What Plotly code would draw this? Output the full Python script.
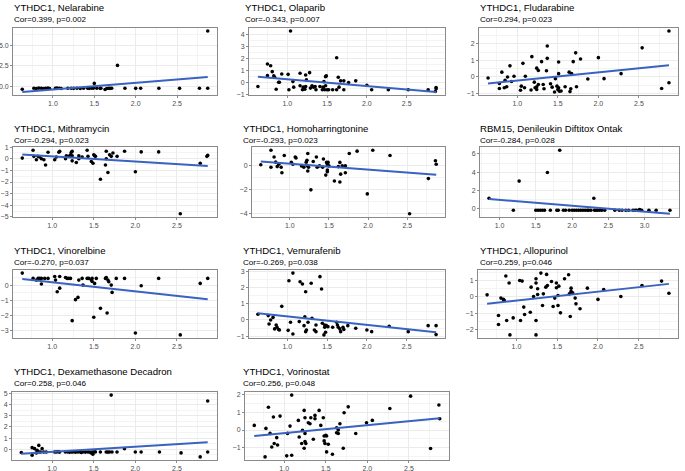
import numpy as np
import plotly.graph_objects as go

W, H = 685, 471

titles = ["YTHDC1, Nelarabine", "YTHDC1, Olaparib", "YTHDC1, Fludarabine",
          "YTHDC1, Mithramycin", "YTHDC1, Homoharringtonine", "RBM15, Denileukin Diftitox Ontak",
          "YTHDC1, Vinorelbine", "YTHDC1, Vemurafenib", "YTHDC1, Allopurinol",
          "YTHDC1, Dexamethasone Decadron", "YTHDC1, Vorinostat"]
subtitles = ["Cor=0.399, p=0.002", "Cor=-0.343, p=0.007", "Cor=0.294, p=0.023",
             "Cor=-0.294, p=0.023", "Cor=-0.293, p=0.023", "Cor=-0.284, p=0.028",
             "Cor=-0.270, p=0.037", "Cor=-0.269, p=0.038", "Cor=0.259, p=0.046",
             "Cor=0.258, p=0.046", "Cor=0.256, p=0.048"]

nel_x = [0.63, 0.77, 0.80, 0.83, 0.86, 0.88, 0.91, 0.94, 0.96, 1.03, 1.05, 1.08, 1.10, 1.18, 1.22, 1.25, 1.29, 1.33, 1.37, 1.42, 1.44, 1.47, 1.49, 1.50, 1.53, 1.57, 1.58, 1.63, 1.65, 1.67, 1.69, 1.71, 1.78, 1.87, 2.00, 2.06, 2.28, 2.53, 2.77, 2.87, 2.87]
nel_y = [-0.31, -0.20, -0.22, -0.18, -0.20, -0.24, -0.20, -0.18, -0.22, -0.20, -0.18, -0.20, -0.22, -0.20, -0.19, -0.21, -0.20, -0.22, -0.20, -0.19, -0.21, -0.20, -0.18, 0.39, -0.20, -0.21, -0.20, -0.35, -0.22, -0.20, -0.21, -0.20, 2.56, -0.20, -0.21, -0.20, -0.20, -0.21, -0.20, -0.20, 6.70]

ola_x = [0.63, 0.75, 0.75, 0.79, 0.81, 0.83, 0.84, 0.86, 0.89, 0.90, 0.93, 1.01, 1.02, 1.04, 1.07, 1.08, 1.16, 1.16, 1.19, 1.20, 1.22, 1.23, 1.23, 1.24, 1.28, 1.29, 1.31, 1.33, 1.35, 1.36, 1.41, 1.44, 1.45, 1.46, 1.47, 1.48, 1.48, 1.49, 1.50, 1.52, 1.57, 1.62, 1.62, 1.64, 1.65, 1.67, 1.71, 1.71, 1.77, 1.86, 2.00, 2.06, 2.27, 2.52, 2.77, 2.86, 2.87, 2.87]
ola_y = [-0.33, 1.53, 0.57, 1.39, 0.90, 0.55, 0.44, -0.55, 0.03, 0.03, 0.71, 0.68, -0.60, 4.26, 0.08, -0.38, 0.77, -0.27, -0.60, -0.38, -0.55, -0.33, 0.63, 0.22, 0.82, -0.46, -0.27, -0.38, -0.33, -0.60, -0.33, -0.60, -0.38, 0.08, -0.60, 0.49, -0.27, 0.55, -0.60, -0.60, -0.60, 2.05, -0.60, 0.44, -0.38, 0.14, -0.60, 0.14, 0.00, 0.14, -0.22, -0.60, -0.60, -0.60, -0.60, -0.74, -0.41, -0.52]

flu_x = [0.64, 0.78, 0.78, 0.81, 0.84, 0.85, 0.87, 0.88, 0.91, 0.93, 0.96, 1.04, 1.05, 1.07, 1.09, 1.10, 1.17, 1.18, 1.21, 1.22, 1.24, 1.24, 1.24, 1.26, 1.26, 1.30, 1.32, 1.33, 1.36, 1.37, 1.37, 1.41, 1.43, 1.46, 1.47, 1.49, 1.50, 1.51, 1.51, 1.51, 1.52, 1.54, 1.59, 1.64, 1.65, 1.66, 1.67, 1.69, 1.72, 1.73, 1.78, 1.87, 2.00, 2.07, 2.28, 2.54, 2.78, 2.87, 2.87]
flu_y = [-0.06, -0.69, -0.39, 0.29, -0.65, -0.20, -0.59, 0.00, 0.67, -0.27, 0.04, -0.80, -0.55, 0.82, -0.65, 0.04, -0.78, 1.22, -0.31, -0.65, -0.59, -0.75, 0.53, 0.39, -0.45, 0.92, -0.45, -0.71, 0.37, 1.86, 1.12, -0.41, -0.61, -0.90, -0.10, -0.55, -0.75, 0.20, -0.65, 0.90, -0.86, -0.84, -0.59, 0.29, -0.88, -0.71, 0.20, 0.92, 1.45, -0.59, 1.08, -0.12, 1.16, -0.10, 0.20, 1.75, -0.69, -0.35, 2.76]

mit_x = [0.64, 0.77, 0.78, 0.81, 0.83, 0.85, 0.87, 0.90, 0.92, 0.95, 1.03, 1.05, 1.08, 1.09, 1.16, 1.17, 1.20, 1.22, 1.23, 1.24, 1.24, 1.24, 1.29, 1.32, 1.32, 1.36, 1.42, 1.43, 1.47, 1.49, 1.50, 1.51, 1.52, 1.58, 1.64, 1.65, 1.65, 1.67, 1.69, 1.71, 1.73, 1.78, 1.87, 2.00, 2.07, 2.28, 2.54, 2.78, 2.86, 2.87]
mit_y = [0.06, 0.74, 0.21, -0.09, 0.21, 0.15, 0.00, -0.09, -0.53, 0.56, -0.09, 0.15, 0.56, 0.65, 0.00, 0.26, 0.21, 0.35, 0.56, 0.65, 0.26, -0.18, -0.32, 0.26, 0.00, 0.15, 0.74, 0.21, -0.24, -0.38, 0.35, 0.26, 0.21, -1.76, -0.53, 0.00, 0.65, -1.18, 0.35, 0.21, 0.50, 0.21, 0.65, -1.12, 0.59, 0.59, -4.74, -0.38, 0.21, 0.29]

hom_x = [0.63, 0.76, 0.76, 0.80, 0.82, 0.84, 0.86, 0.89, 0.90, 0.93, 1.02, 1.04, 1.07, 1.08, 1.15, 1.18, 1.21, 1.22, 1.22, 1.23, 1.23, 1.24, 1.27, 1.30, 1.34, 1.35, 1.38, 1.42, 1.43, 1.46, 1.47, 1.48, 1.48, 1.48, 1.49, 1.50, 1.57, 1.62, 1.64, 1.64, 1.65, 1.67, 1.71, 1.71, 1.76, 1.86, 1.99, 2.06, 2.28, 2.53, 2.77, 2.86, 2.87]
hom_y = [0.09, 1.31, -0.11, 0.74, 0.31, -0.06, 0.14, -0.11, -0.57, 0.86, 0.29, 0.14, 0.74, 0.66, 0.00, -0.11, 0.31, 0.46, 0.03, -0.43, 1.03, -0.11, -2.00, 0.37, 0.74, -0.11, 0.00, -0.11, 0.57, -0.77, 0.29, 0.09, -0.34, -0.49, 0.29, 0.00, -1.26, -0.06, 0.29, -1.34, -0.69, 0.00, -0.57, 0.00, 1.03, 1.23, -2.34, 1.31, 0.86, -4.00, -1.06, 0.43, 0.14]

rbm_x = [0.855, 1.19, 1.27, 1.50, 1.53, 1.56, 1.59, 1.62, 1.66, 1.70, 1.79, 1.81, 1.83, 1.88, 1.91, 1.96, 2.00, 2.03, 2.06, 2.09, 2.12, 2.15, 2.18, 2.21, 2.23, 2.26, 2.30, 2.31, 2.33, 2.35, 2.38, 2.41, 2.45, 2.59, 2.65, 2.69, 2.74, 2.78, 2.84, 2.87, 2.89, 2.93, 2.94, 2.96, 3.06, 3.16, 3.35]
rbm_y = [1.16, -0.15, 3.03, -0.15, -0.15, -0.15, -0.15, -0.15, 3.97, -0.15, -0.15, -0.15, 6.40, -0.15, -0.15, -0.15, -0.15, -0.15, -0.15, -0.15, -0.15, -0.15, -0.15, -0.15, -0.15, -0.15, 1.16, -0.15, -0.15, -0.15, -0.15, -0.15, -0.15, -0.15, -0.15, -0.15, -0.15, -0.15, -0.15, -0.15, -0.15, -0.07, -0.15, -0.15, -0.15, -0.15, -0.15]

vin_x = [0.64, 0.77, 0.81, 0.83, 0.85, 0.87, 0.87, 0.91, 0.95, 1.03, 1.04, 1.06, 1.09, 1.09, 1.16, 1.18, 1.20, 1.22, 1.24, 1.28, 1.31, 1.32, 1.36, 1.37, 1.42, 1.44, 1.47, 1.48, 1.48, 1.50, 1.51, 1.53, 1.58, 1.64, 1.65, 1.66, 1.67, 1.68, 1.71, 1.72, 1.77, 1.87, 2.00, 2.07, 2.28, 2.54, 2.78, 2.87]
vin_y = [0.79, 0.44, 0.33, 0.44, 0.44, 0.07, 0.44, 0.44, 0.44, 0.57, 0.33, -0.44, -0.20, 0.57, 0.50, 0.44, 0.44, 0.44, -2.34, -0.96, -0.81, 0.33, 0.44, 0.00, 0.44, 0.44, 0.33, 0.24, 0.44, -2.12, 0.11, 0.44, -1.53, 0.44, 0.50, -1.84, 0.33, 0.22, 0.00, -0.48, 0.44, 0.44, -3.15, -0.04, 0.44, -3.28, 0.11, 0.44]

vem_x = [0.63, 0.76, 0.77, 0.79, 0.82, 0.84, 0.86, 0.87, 0.89, 0.90, 0.93, 1.01, 1.02, 1.04, 1.07, 1.07, 1.15, 1.16, 1.19, 1.21, 1.22, 1.23, 1.23, 1.24, 1.26, 1.30, 1.31, 1.34, 1.36, 1.36, 1.41, 1.43, 1.44, 1.46, 1.47, 1.47, 1.48, 1.49, 1.51, 1.57, 1.62, 1.63, 1.64, 1.66, 1.67, 1.70, 1.71, 1.76, 1.86, 2.00, 2.06, 2.28, 2.52, 2.77, 2.87, 2.87]
vem_y = [0.35, 0.27, -0.25, 0.00, 0.16, -0.55, -0.31, -0.45, -0.59, -0.62, 0.84, -0.64, 2.42, -0.14, 2.89, -0.86, -0.10, 2.36, 2.22, -0.35, 0.20, -0.72, 1.74, -0.62, -0.14, 2.26, 0.10, -0.62, -0.31, -0.72, 2.67, 1.91, -0.20, -0.92, -0.31, -0.45, -0.76, -0.35, -0.41, -0.45, -0.14, -0.31, -0.45, -0.55, -0.72, -0.45, -0.59, -0.35, -0.51, -0.62, -0.72, -0.39, -0.72, -0.35, -0.35, -0.90]

all_x = [0.64, 0.78, 0.78, 0.81, 0.84, 0.85, 0.87, 0.88, 0.91, 0.92, 0.96, 1.04, 1.05, 1.07, 1.09, 1.10, 1.17, 1.18, 1.21, 1.24, 1.24, 1.24, 1.24, 1.26, 1.26, 1.30, 1.32, 1.33, 1.36, 1.37, 1.38, 1.43, 1.45, 1.47, 1.49, 1.49, 1.51, 1.51, 1.52, 1.54, 1.59, 1.64, 1.65, 1.66, 1.67, 1.67, 1.69, 1.72, 1.73, 1.78, 1.87, 2.00, 2.07, 2.28, 2.54, 2.78, 2.87]
all_y = [0.12, -1.14, -1.69, -0.08, -0.16, -0.22, 1.27, -1.45, 0.84, -2.33, -1.29, 1.00, -1.45, 0.96, -0.63, -1.08, -0.94, 0.59, 0.02, 0.84, -1.45, -2.33, 1.10, 0.14, 0.49, 1.45, -0.53, 0.18, 0.59, 1.37, 0.69, 0.94, -0.59, -0.08, 0.55, 0.84, -0.53, 0.08, 0.65, -0.98, 1.10, 1.35, 0.18, -1.20, 0.53, 0.33, 0.24, -0.08, -0.43, -0.73, 0.53, -0.16, 0.45, 0.02, 0.69, 0.96, 0.22]

dex_x = [0.63, 0.76, 0.76, 0.79, 0.81, 0.82, 0.84, 0.84, 0.86, 0.88, 0.90, 0.93, 1.03, 1.05, 1.07, 1.09, 1.16, 1.19, 1.21, 1.23, 1.25, 1.28, 1.31, 1.34, 1.35, 1.37, 1.40, 1.43, 1.45, 1.47, 1.48, 1.49, 1.50, 1.52, 1.58, 1.65, 1.67, 1.69, 1.71, 1.72, 1.78, 1.87, 2.00, 2.07, 2.29, 2.55, 2.78, 2.87, 2.87]
dex_y = [-0.29, -0.53, 0.15, 0.06, -0.32, -0.09, 0.35, -0.24, -0.24, 0.06, -0.24, -0.24, -0.24, -0.24, -0.22, -0.25, -0.24, -0.23, -0.25, -0.24, -0.24, -0.26, -0.24, -0.23, -0.29, -0.24, -0.25, -0.24, -0.24, -0.32, -0.24, -0.44, -0.24, -0.23, -0.24, -0.24, -0.25, -0.24, 4.85, -0.24, -0.24, 0.06, -0.24, -0.24, -0.24, -0.32, -0.68, 4.32, -0.24]

vor_x = [0.64, 0.77, 0.78, 0.81, 0.83, 0.85, 0.87, 0.88, 0.91, 0.92, 0.95, 1.03, 1.04, 1.07, 1.09, 1.09, 1.17, 1.18, 1.21, 1.22, 1.24, 1.24, 1.25, 1.25, 1.25, 1.26, 1.29, 1.31, 1.32, 1.35, 1.37, 1.37, 1.42, 1.44, 1.47, 1.48, 1.48, 1.49, 1.50, 1.51, 1.51, 1.53, 1.58, 1.63, 1.63, 1.65, 1.65, 1.67, 1.71, 1.72, 1.77, 1.86, 1.99, 2.06, 2.27, 2.52, 2.76, 2.86, 2.87]
vor_y = [0.26, -1.51, 0.09, 1.28, -0.19, -0.95, 0.73, -0.76, -0.43, -0.84, 0.78, -1.45, -0.19, 0.22, 1.96, -1.42, 0.54, -0.39, -0.76, -0.02, 1.10, -1.02, -0.19, -0.65, 0.69, -0.76, 0.41, 0.35, 0.69, -0.52, 0.82, 0.63, 1.10, 0.26, 0.69, -0.61, -0.34, -0.76, -0.30, -0.34, -1.23, -0.80, -1.36, 0.13, -0.15, -0.20, 0.00, 0.35, -1.02, 0.97, 1.30, -0.20, 0.41, 0.54, 1.21, 1.90, -1.04, 1.40, 0.63]

xs = [nel_x, ola_x, flu_x, mit_x, hom_x, rbm_x, vin_x, vem_x, all_x, dex_x, vor_x]
ys = [nel_y, ola_y, flu_y, mit_y, hom_y, rbm_y, vin_y, vem_y, all_y, dex_y, vor_y]

# layout (pixels): panel plot boxes (left, right) and row (top, bottom)
col_lr = [(13, 217), (249, 445), (479, 678),
          (13, 217), (252, 445), (480, 679),
          (13, 217), (249, 445), (478, 678),
          (12, 217), (245, 449)]
title_left = [12, 243, 478, 12, 241, 478, 12, 241, 478, 12, 241]
row_tb = [(28, 95), (147, 217), (270, 338), (392, 460)]
row_title = [(8, 19.5), (129, 140.5), (250, 262), (371, 383)]
y_dtick = [2.5, 1, 1, 1, 2, 2, 1, 1, 1, 1, 1]
y_fmt = [".1f", "d", "d", "d", "d", "d", "d", "d", "d", "d", "d"]

LINE = "#3A62C0"
GRID = "#EBEBEB"
MINOR = "#F4F4F4"
FONT = "Liberation Sans, Arial, sans-serif"

fig = go.Figure()
annotations = []
for i in range(11):
    r = i // 3
    ax = "" if i == 0 else str(i + 1)
    x = np.array(xs[i], dtype=float)
    y = np.array(ys[i], dtype=float)
    fig.add_trace(go.Scatter(x=x, y=y, mode="markers",
                             marker=dict(color="black", size=3.6),
                             xaxis="x" + ax, yaxis="y" + ax, showlegend=False, hoverinfo="skip"))
    b, a = np.polyfit(x, y, 1)
    lx = np.array([x.min(), x.max()])
    ly = a + b * lx
    fig.add_trace(go.Scatter(x=lx, y=ly, mode="lines", line=dict(color=LINE, width=2),
                             xaxis="x" + ax, yaxis="y" + ax, showlegend=False, hoverinfo="skip"))
    xmin, xmax = x.min(), x.max()
    xr = xmax - xmin
    allY = np.concatenate([y, ly])
    ymin, ymax = allY.min(), allY.max()
    yr = ymax - ymin
    l, rr = col_lr[i]
    t, bt = row_tb[r]
    common = dict(showline=True, mirror=True, linecolor="#8a8a8a", linewidth=1,
                  ticks="outside", ticklen=2, tickcolor="#8a8a8a", tickwidth=1,
                  tickfont=dict(size=7, color="#4D4D4D", family=FONT),
                  showgrid=True, gridcolor=GRID, gridwidth=1, zeroline=False, automargin=False)
    fig.layout["xaxis" + ax] = dict(common, domain=[l / W, rr / W],
                                    range=[xmin - 0.05 * xr, xmax + 0.05 * xr],
                                    anchor="y" + ax, tick0=0, dtick=0.5, tickformat=".1f",
                                    minor=dict(showgrid=True, gridcolor=MINOR, gridwidth=0.6, tick0=0.25, dtick=0.5))
    fig.layout["yaxis" + ax] = dict(common, domain=[1 - bt / H, 1 - t / H],
                                    range=[ymin - 0.05 * yr, ymax + 0.05 * yr],
                                    anchor="x" + ax, tick0=0, dtick=y_dtick[i], tickformat=y_fmt[i],
                                    minor=dict(showgrid=True, gridcolor=MINOR, gridwidth=0.6,
                                               tick0=y_dtick[i] / 2, dtick=y_dtick[i]))
    tcy, scy = row_title[r]
    annotations.append(dict(text=titles[i], x=title_left[i] / W, y=1 - tcy / H, xref="paper", yref="paper",
                            xanchor="left", yanchor="middle", showarrow=False,
                            font=dict(size=9.6, color="black", family=FONT)))
    annotations.append(dict(text=subtitles[i], x=title_left[i] / W, y=1 - scy / H, xref="paper", yref="paper",
                            xanchor="left", yanchor="middle", showarrow=False,
                            font=dict(size=8.1, color="black", family=FONT)))

fig.update_layout(width=W, height=H, margin=dict(l=0, r=0, t=0, b=0),
                  paper_bgcolor="white", plot_bgcolor="white",
                  annotations=annotations, font=dict(family=FONT))
fig.write_html("out.html", config={"displayModeBar": False},
               post_script="document.body.style.margin='0px';document.body.style.padding='0px';")
